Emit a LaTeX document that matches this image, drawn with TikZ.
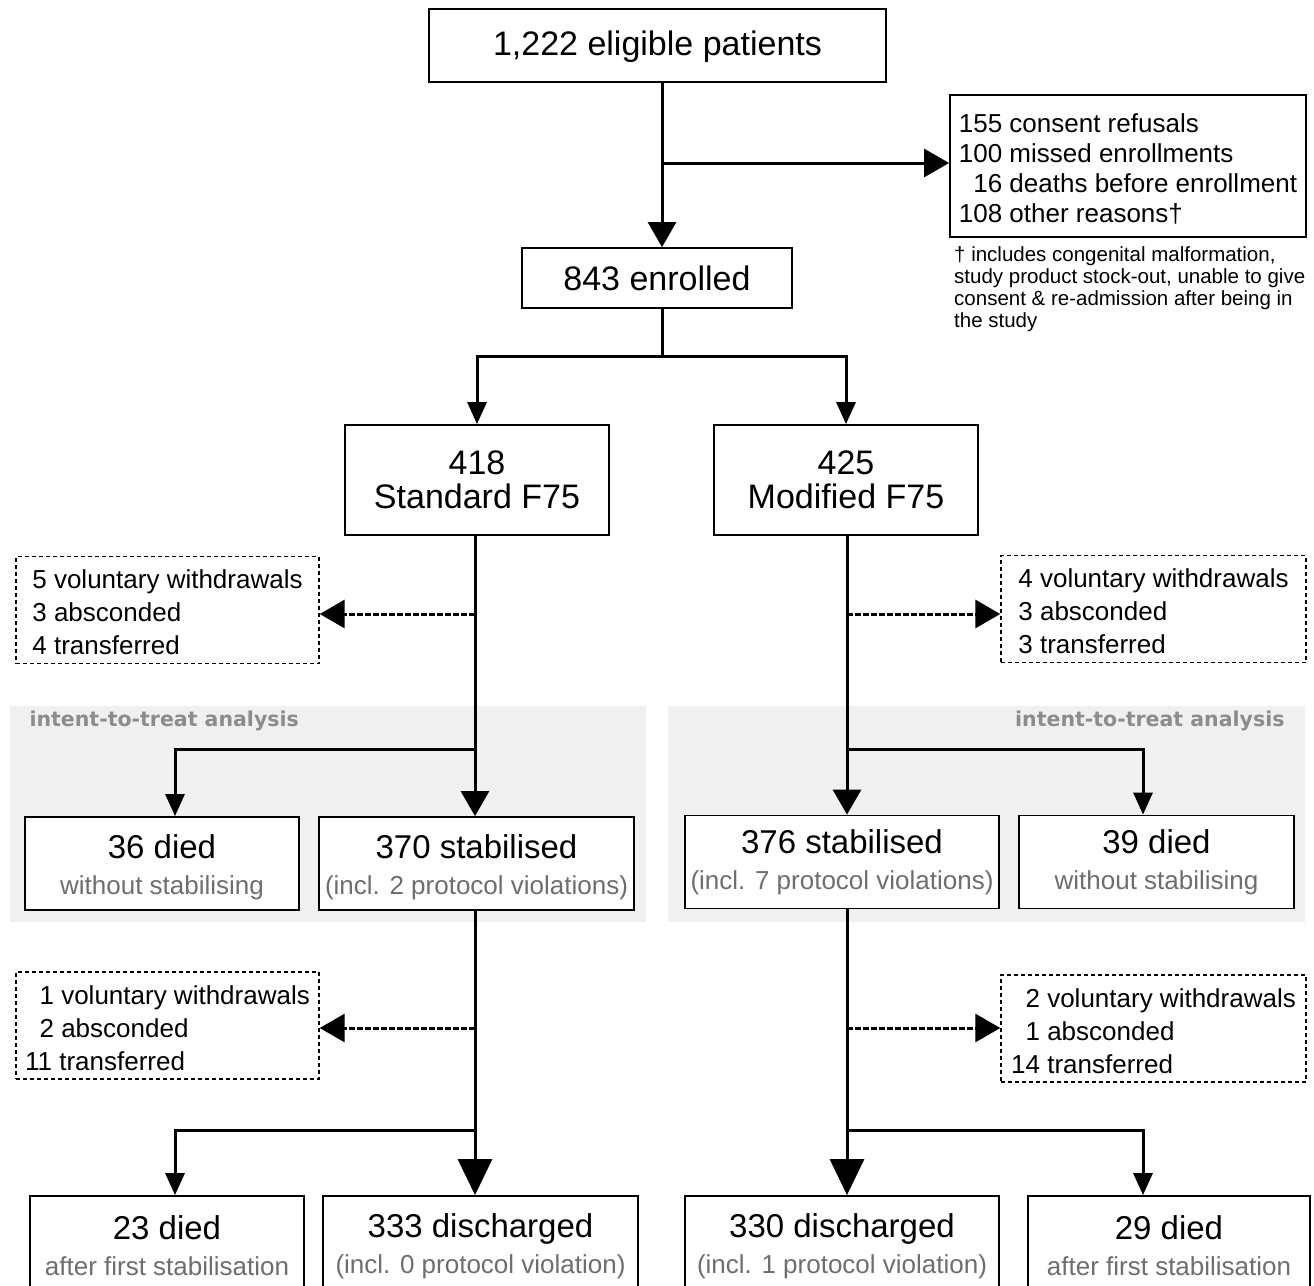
\documentclass[tikz,border=0pt]{standalone}
\usepackage{fontspec}
\setmainfont{Liberation Sans}
\newfontfamily\ittfont{DejaVu Sans}
\usepackage{xcolor}
\usetikzlibrary{arrows.meta}
\definecolor{panelgrey}{HTML}{F0F0F0}
\definecolor{ittgrey}{HTML}{8C8C8C}
\definecolor{subgrey}{HTML}{6E6E6E}

\begin{document}
\begin{tikzpicture}[x=1pt,y=-1pt,
        box/.style={draw,line width=1.8pt,align=center,inner sep=0pt},
        big/.style={font=\fontsize{34}{34}\selectfont},
        res/.style={font=\fontsize{26}{36}\selectfont},
        wdbox/.style={draw,dash pattern=on 4pt off 3pt,line width=1.4pt,align=left,inner sep=0pt,
            minimum height=107,font=\fontsize{26}{33}\selectfont},
        flow/.style={line width=3pt},
        dflow/.style={line width=3pt,dash pattern=on 6pt off 2pt},
        tipS/.style={-{Triangle[length=22pt,width=19pt]}},
        tipM/.style={-{Triangle[length=25pt,width=28pt]}},
        tipL/.style={-{Triangle[length=36pt,width=34pt]}}]
        \useasboundingbox (0,0) rectangle (1314,1285);
        \clip (0,0) rectangle (1314,1285);
        \fill[white] (0,0) rectangle (1314,1285);
        \fill[panelgrey] (10,706) rectangle (646,922);
        \fill[panelgrey] (668,706) rectangle (1305,922);
        \node[anchor=west,text=ittgrey,font=\ittfont\bfseries\fontsize{20.5}{20.5}\selectfont] (itt1) at (26,721) {intent-to-treat analysis};
        \node[anchor=east,text=ittgrey,font=\ittfont\bfseries\fontsize{20.5}{20.5}\selectfont] (itt2) at (1288,721) {intent-to-treat analysis};

        \node[box,big,minimum width=457,minimum height=73] (elig) at (657.5,45.5) {\rule{0pt}{28pt}1,222 eligible patients};
        \node[box,minimum width=356,minimum height=142,align=left,font=\fontsize{26}{30}\selectfont] (excl) at (1128,166)
            {\rule{0pt}{24pt}155 consent refusals\\100 missed enrollments\\\phantom{1}16 deaths before enrollment\\108 other reasons\dag};
        \node[anchor=north west,align=left,inner sep=0pt,font=\fontsize{20.5}{22}\selectfont] (note) at (954,246)
            {† includes congenital malformation,\\study product stock-out, unable to give\\consent \& re-admission after being in\\the study};
        \node[box,big,minimum width=270,minimum height=60] (enr) at (657,278) {843 enrolled};
        \node[box,big,minimum width=264,minimum height=110] (std) at (477,480) {418\\Standard F75};
        \node[box,big,minimum width=264,minimum height=110] (mod) at (846,480) {425\\Modified F75};

        \node[wdbox,minimum width=303] (wd1) at (167.5,610) {\rule{0pt}{24pt}5 voluntary withdrawals\\3 absconded\\4 transferred};
        \node[wdbox,minimum width=305] (wd2) at (1153.5,609) {\rule{0pt}{24pt}4 voluntary withdrawals\\3 absconded\\3 transferred};

        \node[box,res,fill=white,minimum width=274,minimum height=93] (died1) at (162,863.5)
            {{\fontsize{33}{33}\selectfont\rule{0pt}{31pt}36 died}\\\textcolor{subgrey}{without stabilising}};
        \node[box,res,fill=white,minimum width=315,minimum height=93] (stab1) at (476.5,863.5)
            {{\fontsize{33}{33}\selectfont\rule{0pt}{31pt}370 stabilised}\\\textcolor{subgrey}{(incl. 2 protocol violations)}};
        \node[box,res,fill=white,minimum width=314,minimum height=93] (stab2) at (842,862)
            {{\fontsize{33}{33}\selectfont 376 stabilised}\\\textcolor{subgrey}{(incl. 7 protocol violations)}};
        \node[box,res,fill=white,minimum width=275,minimum height=93] (died2) at (1156.5,862)
            {{\fontsize{33}{33}\selectfont 39 died}\\\textcolor{subgrey}{without stabilising}};

        \node[wdbox,minimum width=303] (wd3) at (167.5,1025.5) {\rule{0pt}{24pt}\phantom{1}1 voluntary withdrawals\\\phantom{1}2 absconded\\11 transferred};
        \node[wdbox,minimum width=305] (wd4) at (1153.5,1028.5) {\rule{0pt}{24pt}\phantom{1}2 voluntary withdrawals\\\phantom{1}1 absconded\\14 transferred};

        \node[box,res,minimum width=274,minimum height=100] (died3) at (167,1246)
            {{\fontsize{33}{33}\selectfont 23 died}\\\textcolor{subgrey}{after first stabilisation}};
        \node[box,res,minimum width=315,minimum height=100] (dis1) at (480.5,1246)
            {{\fontsize{33}{33}\selectfont 333 discharged}\\\textcolor{subgrey}{(incl. 0 protocol violation)}};
        \node[box,res,minimum width=314,minimum height=100] (dis2) at (842,1246)
            {{\fontsize{33}{33}\selectfont 330 discharged}\\\textcolor{subgrey}{(incl. 1 protocol violation)}};
        \node[box,res,minimum width=282,minimum height=100] (died4) at (1169,1246)
            {{\fontsize{33}{33}\selectfont 29 died}\\\textcolor{subgrey}{after first stabilisation}};

        \coordinate (trunk) at (662,163);
        \coordinate (split) at (662,356);
        \coordinate (left) at (475,614);
        \coordinate (right) at (847,614);
        \coordinate (left2) at (475,1028);
        \coordinate (right2) at (847,1028);
        \coordinate (b1) at (175,749);
        \coordinate (b2) at (1143,749);
        \coordinate (b3) at (175,1130);
        \coordinate (b4) at (1143,1130);

        \draw[flow,tipM] (elig.south -| trunk) -- (enr.north -| trunk);
        \draw[flow,tipM] (trunk) -- (trunk -| excl.west);
        \draw[flow] (enr.south -| split) -- (split);
        \draw[flow,tipS] (split) -| (std.north);
        \draw[flow,tipS] (split) -| (mod.north);

        \draw[flow,tipM] (std.south -| left) -- (stab1.north -| left);
        \draw[dflow,tipM] (left) -- (left -| wd1.east);
        \draw[flow,tipS] (b1 -| left) -- (b1) -- (b1 |- died1.north);
        \draw[flow,tipL] (stab1.south -| left2) -- (dis1.north -| left2);
        \draw[dflow,tipM] (left2) -- (left2 -| wd3.east);
        \draw[flow,tipS] (b3 -| left2) -- (b3) -- (b3 |- died3.north);

        \draw[flow,tipM] (mod.south -| right) -- (stab2.north -| right);
        \draw[dflow,tipM] (right) -- (right -| wd2.west);
        \draw[flow,tipS] (b2 -| right) -- (b2) -- (b2 |- died2.north);
        \draw[flow,tipL] (stab2.south -| right2) -- (dis2.north -| right2);
        \draw[dflow,tipM] (right2) -- (right2 -| wd4.west);
        \draw[flow,tipS] (b4 -| right2) -- (b4) -- (b4 |- died4.north);
    \end{tikzpicture}
\end{document}
